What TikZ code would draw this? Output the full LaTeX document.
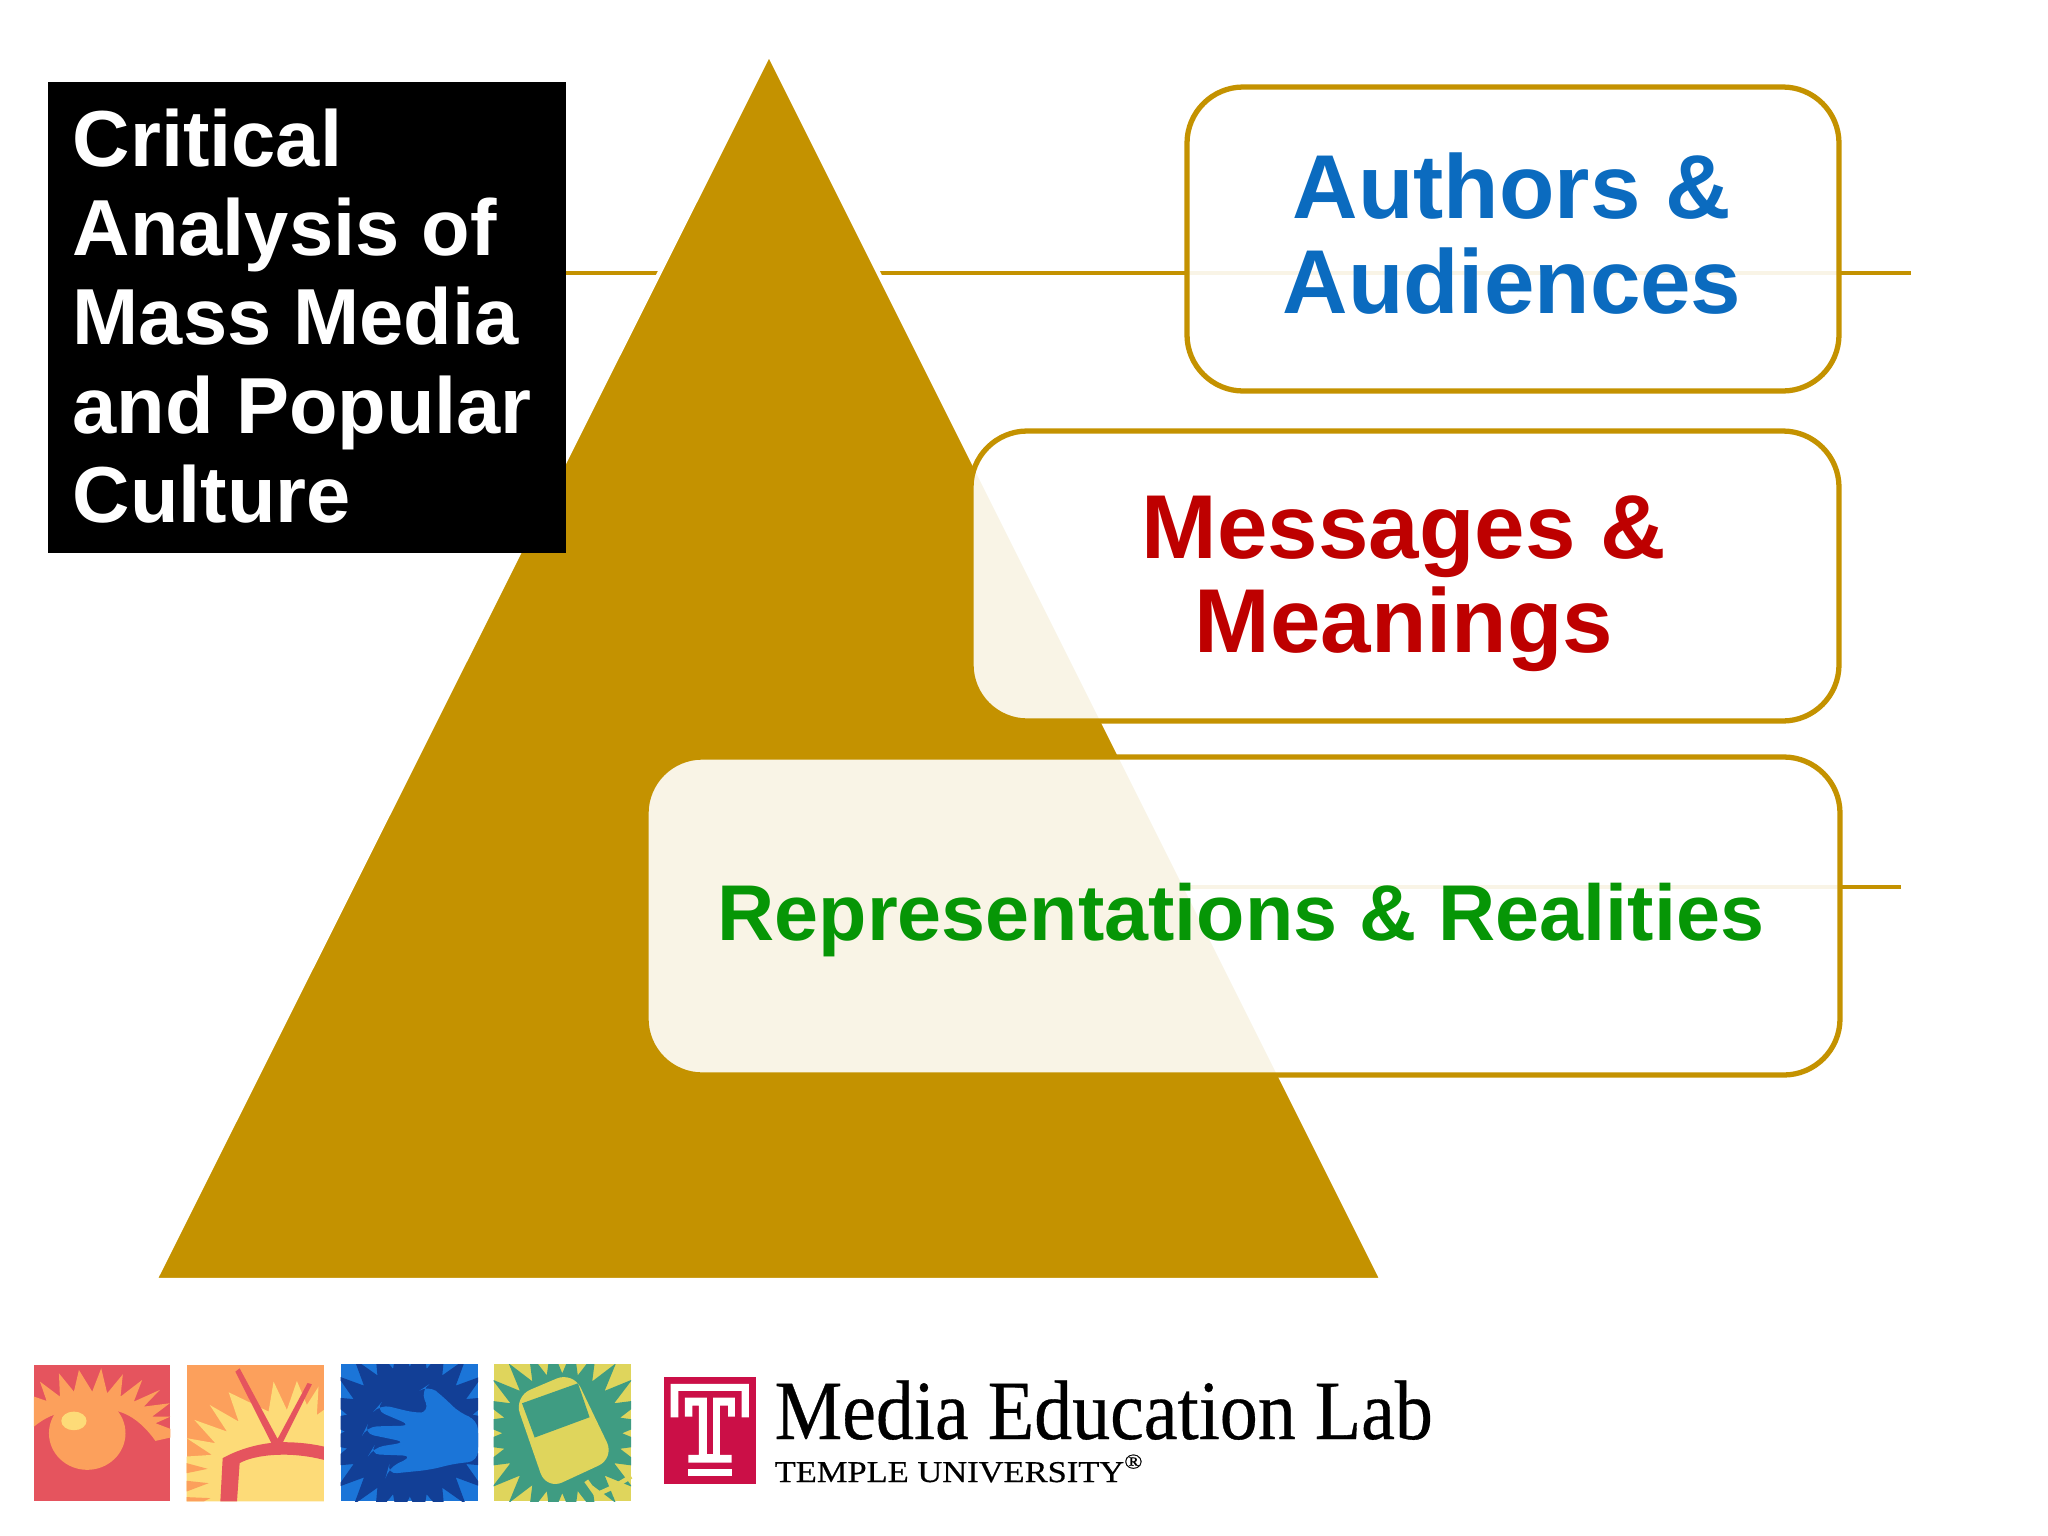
\documentclass[tikz,border=0pt]{standalone}
\usepackage{fontspec}
\setmainfont{Liberation Sans}
\newfontfamily\serifface[FakeStretch=0.9,FakeBold=0.4]{Liberation Serif}
\newfontfamily\universityface[FakeStretch=1.14,FakeBold=0.5]{Liberation Serif}
\definecolor{gold}{HTML}{C49200}
\definecolor{blueword}{HTML}{0B6BBF}
\definecolor{redword}{HTML}{BE0000}
\definecolor{greenword}{HTML}{069606}
\definecolor{tilered}{HTML}{E5545E}
\definecolor{tileorange}{HTML}{FCA05C}
\definecolor{tileyellow}{HTML}{FDDB78}
\definecolor{tileblue}{HTML}{1B75D8}
\definecolor{tilenavy}{HTML}{123F96}
\definecolor{tilegreen}{HTML}{3F9C82}
\definecolor{tilelime}{HTML}{DFD55C}
\definecolor{templered}{HTML}{CB0F47}
\tikzset{
	rail/.style={draw=gold,line width=1.4pt},
	panel/.style={draw=gold,line width=1.5pt,rounded corners=16pt,fill=white,fill opacity=0.9},
	word/.style={font=\bfseries\fontsize{25.8}{27}\selectfont,align=center,anchor=base},
	title/.style={font=\bfseries\fontsize{22.6}{25.3}\selectfont,text=white,align=left,anchor=north west,inner sep=0pt},
	tilezoom/.style={x=0.003333cm,y=-0.003333cm},
}
\begin{document}
\begin{tikzpicture}[x=0.01cm,y=-0.01cm]
	\useasboundingbox (0,0) rectangle (2048,1536);
	\coordinate (railA) at (560,273);
	\coordinate (railB) at (1911,273);
	\coordinate (railC) at (1000,887);
	\coordinate (railD) at (1901,887);
	\draw[rail] (railA) -- (railB);
	\draw[rail] (railC) -- (railD);
	\fill[gold,draw=white,line width=1.2pt] (769,54) -- (1382,1280) -- (155,1280) -- cycle;
	\path[panel] (1187,87) rectangle (1839,391);
	\path[panel] (971,431) rectangle (1839,721);
	\path[panel] (646,757) rectangle (1840,1075);
	\node[word,text=blueword] (authors) at (1512,218) {Authors \&};
	\node[word,text=blueword] (audiences) at (1512,313) {Audiences};
	\node[word,text=redword] (messages) at (1404,558) {Messages \&};
	\node[word,text=redword] (meanings) at (1404,652) {Meanings};
	\node[word,text=greenword,font=\bfseries\fontsize{22.5}{25}\selectfont] (realities) at (1241,940) {Representations \& Realities};
	\fill[black] (48,82) rectangle (566,553);
	\node[title] (titletext) at (72,108) {Critical\\Analysis of\\Mass Media\\and Popular\\Culture};
	% eye and tv tiles
	\begin{scope}[shift={(24,1355)},tilezoom]
		\fill[tilered] (30,30) rectangle (440,440);
		\fill[tileorange] (30,215) -- (30,125) -- (68,138) -- (48,80) -- (108,125) -- (105,55) -- (150,110) -- (165,45) -- (205,110) -- (232,40) -- (250,115) -- (297,58) -- (290,125) -- (355,75) -- (330,140) -- (408,105) -- (360,155) -- (438,145) -- (385,185) -- (440,185) -- (395,205) -- (440,222) -- (440,248) -- (395,258) .. controls (350,195) and (300,165) .. (250,165) -- (110,175) .. controls (80,180) and (55,195) .. (30,215) -- cycle;
		\fill[tileorange] (190,235) ellipse [x radius=115,y radius=110];
		\fill[tileyellow] (150,198) ellipse [x radius=38,y radius=28];
		\fill[tileorange] (489,30) rectangle (901,440);
		\fill[tileyellow] (489,440) -- (489,305) -- (565,300) -- (489,250) -- (575,265) -- (512,195) -- (610,230) -- (558,150) -- (645,200) -- (615,112) -- (735,170) -- (750,80) -- (790,165) -- (820,78) -- (850,150) -- (885,95) -- (880,180) -- (901,165) -- (901,440) -- cycle;
		\fill[tileorange] (489,325) -- (552,342) -- (489,355) -- cycle;
		\fill[tileorange] (489,378) -- (555,385) -- (489,410) -- cycle;
		\fill[tileorange] (489,427) -- (560,430) -- (540,440) -- (489,440) -- cycle;
		\fill[tilered] (590,440) -- (597,310) .. controls (650,280) and (720,262) .. (780,262) .. controls (830,262) and (870,268) .. (901,275) -- (901,315) .. controls (850,302) and (800,298) .. (760,300) .. controls (710,302) and (670,312) .. (648,325) -- (640,440) -- cycle;
		\fill[tilered] (648,40) -- (635,50) -- (745,268) -- (775,268) -- (865,88) -- (852,84) -- (762,252) -- cycle;
	\end{scope}
	% hand and player tiles
	\begin{scope}[shift={(330,1355)},tilezoom]
		\fill[tileblue] (32,28) rectangle (445,440);
		\begin{scope}
			\clip (32,28) rectangle (445,440);
			\fill[tilenavy] (240,230) +(0:195) \foreach \a in {0,15,...,345} { -- +(\a+7.5:275) -- +(\a+15:195)} -- cycle;
		\end{scope}
		\fill[tileblue,rounded corners=3pt] (445,195) -- (390,175) -- (340,125) -- (295,90) -- (272,105) -- (300,172) -- (260,175) -- (150,148) -- (135,165) -- (245,212) -- (110,215) -- (100,235) -- (230,262) -- (130,278) -- (118,298) -- (250,303) -- (175,340) -- (170,358) -- (300,345) -- (380,325) -- (445,320) -- cycle;
		\fill[tilelime] (492,28) rectangle (905,440);
		\begin{scope}
			\clip (492,28) rectangle (905,440);
			\fill[tilegreen] (698,235) +(0:180) \foreach \a in {0,15,...,345} { -- +(\a+7.5:265) -- +(\a+15:180)} -- cycle;
		\end{scope}
		\fill[tilelime,rounded corners=5pt] (553,125) -- (730,50) -- (855,310) -- (650,405) -- cycle;
		\fill[tilegreen] (577,145) -- (745,85) -- (780,187) -- (615,248) -- cycle;
		\draw[tilelime,line width=1.3pt] (770,378) -- (800,420) -- (855,395) -- (905,365);
		\draw[tilelime,line width=1.3pt] (855,425) -- (875,395);
	\end{scope}
	% temple mark
	\begin{scope}[shift={(650,1365)},tilezoom]
		\fill[templered] (41,35) rectangle (318,357);
		\fill[white] (62,57) -- (297,57) -- (297,157) -- (275,157) -- (275,78) -- (85,78) -- (85,157) -- (62,157) -- cycle;
		\fill[white] (105,98) -- (255,98) -- (255,155) -- (235,155) -- (235,122) -- (210,122) -- (210,270) -- (245,270) -- (245,293) -- (115,293) -- (115,270) -- (147,270) -- (147,122) -- (127,122) -- (127,155) -- (105,155) -- cycle;
		\fill[templered] (171,95) rectangle (189,268);
		\fill[white] (115,312) rectangle (247,333);
	\end{scope}
	\node[font=\serifface\fontsize{24}{24}\selectfont,text=black,anchor=base west,inner sep=0pt] (lab) at (774,1439) {Media Education Lab};
	\node[font=\universityface\fontsize{8.6}{9}\selectfont,text=black,anchor=base west,inner sep=0pt] (temple) at (774,1482) {TEMPLE UNIVERSITY\textsuperscript{®}};
\end{tikzpicture}
\end{document}
